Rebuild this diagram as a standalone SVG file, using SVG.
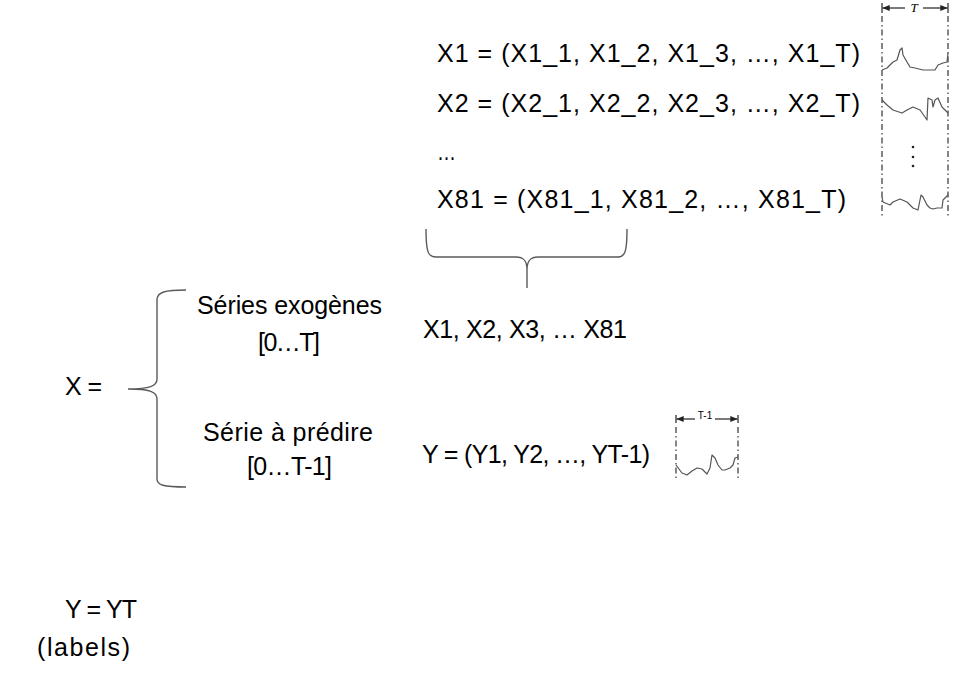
<svg xmlns="http://www.w3.org/2000/svg" width="955" height="696" viewBox="0 0 955 696">
<defs>
<style>
.t{font-family:"Liberation Sans",Arial,sans-serif;font-size:25px;fill:#000}
.br{fill:none;stroke:#5a5a5a;stroke-width:1.4}
.dd{fill:none;stroke:#333;stroke-width:1.2;stroke-dasharray:6 3 1.5 3}
.wv{fill:none;stroke:#555;stroke-width:1.2;stroke-linejoin:round}
.ar{fill:none;stroke:#222;stroke-width:1.2}
</style>
<marker id="ah" viewBox="0 0 10 10" refX="10" refY="5" markerWidth="6" markerHeight="6" orient="auto-start-reverse">
<path d="M0,1 L10,5 L0,9 z" fill="#222"/>
</marker>
</defs>
<rect width="955" height="696" fill="#fff"/>

<g id="series-list">
<text class="t" x="437" y="62" textLength="423">X1 = (X1_1, X1_2, X1_3, …, X1_T)</text>
<text class="t" x="437" y="112" textLength="423">X2 = (X2_1, X2_2, X2_3, …, X2_T)</text>
<text class="t" x="437" y="160" textLength="19" lengthAdjust="spacingAndGlyphs">…</text>
<text class="t" x="437" y="208" textLength="409">X81 = (X81_1, X81_2, …, X81_T)</text>
</g>

<g id="waveforms-top">
<line class="ar" x1="905" y1="8" x2="882.5" y2="8" marker-end="url(#ah)"/>
<line class="ar" x1="923" y1="8" x2="947.5" y2="8" marker-end="url(#ah)"/>
<line class="ar" x1="882" y1="3" x2="882" y2="13"/>
<line class="ar" x1="948" y1="3" x2="948" y2="13"/>
<text x="914" y="12" font-family="'Liberation Serif',serif" font-style="italic" font-size="13" text-anchor="middle">T</text>
<line class="dd" x1="882" y1="16" x2="882" y2="218"/>
<line class="dd" x1="948" y1="16" x2="948" y2="218"/>
<polyline class="wv" points="882,70 887,68 893,62 897,60 900,50 902,48 903,55 907,62 910,67 915,68 923,70 935,70 938,65 943,63 947,62 948,53"/>
<polyline class="wv" points="882,100 887,105 893,110 902,113 907,110 913,107 920,110 925,117 927,120 928,98 932,100 933,107 935,100 938,98 942,107 948,113"/>
<circle cx="913" cy="147" r="1.3" fill="#222"/>
<circle cx="913" cy="157" r="1.3" fill="#222"/>
<circle cx="913" cy="166" r="1.3" fill="#222"/>
<polyline class="wv" points="882,197 883,202 890,205 893,202 900,199 907,202 913,208 918,210 921,195 923,197 927,205 930,208 933,209 937,208 942,208 943,200 948,195"/>
</g>

<g id="connectors">
<path class="br" d="M426,229 C426,252 428,257 436,257 L516,257 C524,257 527,261 527,270 L527,288 M527,270 C527,261 530,257 538,257 L618,257 C625,257 627,252 627,229"/>
<path class="br" d="M186,290 C165,290 157,292 157,300 L157,379 C157,386 150,389 128,389 C150,389 157,392 157,399 L157,479 C157,485 163,487 186,487"/>
</g>

<g id="x-label">
<text class="t" x="65" y="395" textLength="37">X =</text>
</g>

<g id="exogenous">
<text class="t" x="197" y="314" textLength="185">Séries exogènes</text>
<text class="t" x="258" y="351" textLength="62">[0…T]</text>
</g>

<g id="target-series">
<text class="t" x="203" y="441" textLength="170">Série à prédire</text>
<text class="t" x="247" y="475" textLength="85">[0…T-1]</text>
</g>

<g id="x-values">
<text class="t" x="423" y="338" textLength="204">X1, X2, X3, … X81</text>
</g>

<g id="y-values">
<text class="t" x="422" y="463" textLength="228">Y = (Y1, Y2, …, YT-1)</text>
</g>

<g id="waveform-y">
<line class="ar" x1="695" y1="419" x2="676.5" y2="419" marker-end="url(#ah)"/>
<line class="ar" x1="715" y1="419" x2="737.5" y2="419" marker-end="url(#ah)"/>
<line class="ar" x1="676" y1="415" x2="676" y2="423"/>
<line class="ar" x1="738" y1="415" x2="738" y2="423"/>
<text x="705" y="419" font-family="'Liberation Sans',Arial,sans-serif" font-size="10" text-anchor="middle">T-1</text>
<line class="dd" x1="676" y1="427" x2="676" y2="480"/>
<line class="dd" x1="738" y1="427" x2="738" y2="480"/>
<polyline class="wv" points="676,465 682,473 687,475 692,471 697,468 702,469 707,474 710,468 712,455 715,458 718,465 722,470 725,470 730,468 733,465 735,458 738,457"/>
</g>

<g id="y-label">
<text class="t" x="65" y="618" textLength="72">Y = YT</text>
<text class="t" x="37" y="656" textLength="93">(labels)</text>
</g>
</svg>
